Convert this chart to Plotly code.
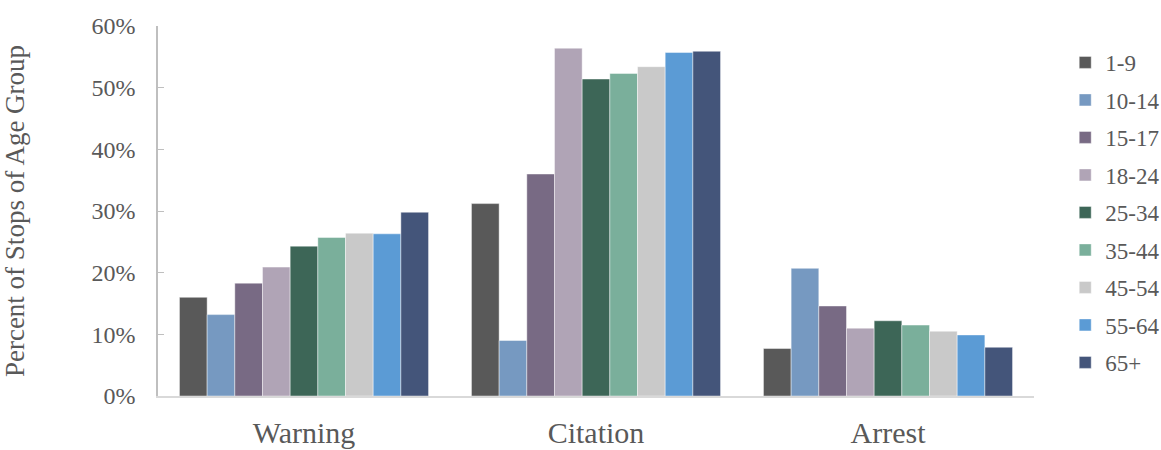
import plotly.graph_objects as go

categories = ["Warning", "Citation", "Arrest"]
age_groups = ["1-9", "10-14", "15-17", "18-24", "25-34", "35-44", "45-54", "55-64", "65+"]
colors = ["#595959", "#7699C1", "#786A84", "#B0A4B6", "#3D6657",
          "#7AAF9B", "#C9C9C9", "#5B9BD5", "#44557A"]

v_1_9 = [0.160, 0.312, 0.077]
v_10_14 = [0.132, 0.090, 0.207]
v_15_17 = [0.183, 0.360, 0.146]
v_18_24 = [0.209, 0.564, 0.110]
v_25_34 = [0.243, 0.514, 0.122]
v_35_44 = [0.257, 0.523, 0.115]
v_45_54 = [0.264, 0.534, 0.105]
v_55_64 = [0.263, 0.557, 0.099]
v_65p = [0.298, 0.559, 0.079]
series = [v_1_9, v_10_14, v_15_17, v_18_24, v_25_34, v_35_44, v_45_54, v_55_64, v_65p]

font_family = "Liberation Serif, Times New Roman, serif"
text_color = "#595959"

fig = go.Figure()
for name, vals, col in zip(age_groups, series, colors):
    fig.add_trace(go.Bar(
        x=categories, y=vals, name=name,
        marker=dict(color=col, line=dict(color="rgba(255,255,255,0.55)", width=0.8)),
        legendgroup=name,
    ))

fig.update_layout(
    width=1161, height=450,
    barmode="group", bargap=0.147, bargroupgap=0,
    plot_bgcolor="white", paper_bgcolor="white",
    margin=dict(l=158, r=127, t=26, b=54),
    font=dict(family=font_family, color=text_color, size=22),
    legend=dict(
        xref="container", yref="container",
        x=0.9175, xanchor="left", y=0.909, yanchor="top",
        maxheight=420,
        font=dict(family=font_family, size=23, color=text_color),
        tracegroupgap=4.6, itemwidth=30,
        bgcolor="rgba(0,0,0,0)",
    ),
    showlegend=True,
)
fig.update_yaxes(
    range=[0, 0.6], dtick=0.1, tickformat=".0%",
    automargin=False,
    showgrid=False, zeroline=False,
    showline=True, linecolor="#BFBFBF", linewidth=1.5,
    ticks="inside", ticklen=6, tickcolor="#BFBFBF",
    ticklabelstandoff=16,
    tickfont=dict(family=font_family, size=24, color=text_color),
    title=dict(text="Percent of Stops of Age Group", standoff=60,
               font=dict(family=font_family, size=27, color=text_color)),
)
fig.update_xaxes(
    automargin=False,
    showgrid=False, zeroline=False,
    showline=True, linecolor="#D9D9D9", linewidth=2,
    ticks="", ticklabelstandoff=9,
    tickfont=dict(family=font_family, size=30, color=text_color),
)

fig.write_html(
    "out.html",
    config={"displayModeBar": False},
    post_script="document.body.style.margin='0';document.body.style.overflow='hidden';",
)
